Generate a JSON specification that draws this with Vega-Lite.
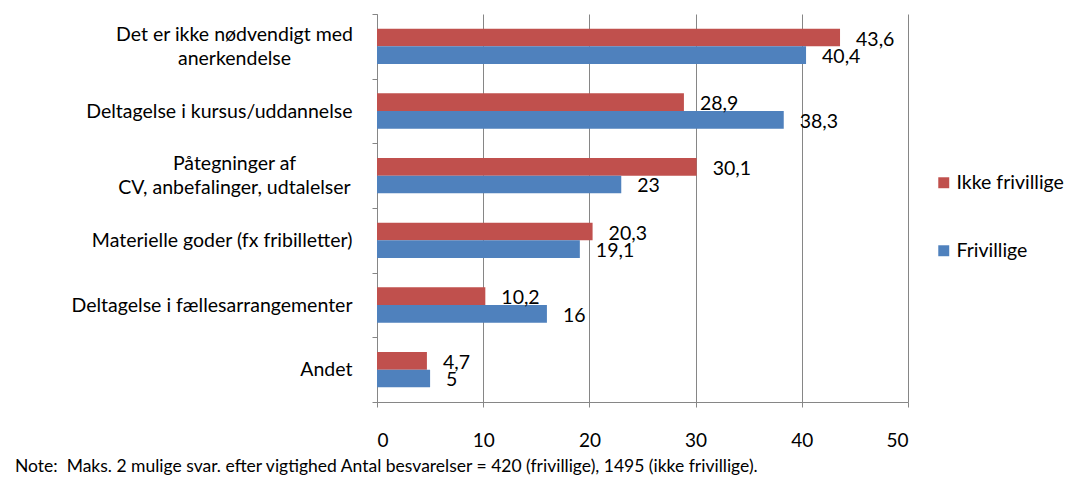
{
  "$schema": "https://vega.github.io/schema/vega-lite/v6.json",
  "width": 531,
  "height": 388,
  "autosize": {"type": "none"},
  "padding": {"left": 377, "top": 14, "right": 177, "bottom": 85},
  "config": {
    "view": {"stroke": null},
    "font": "Lato",
    "locale": {"number": {"decimal": ",", "thousands": ".", "grouping": [3], "currency": ["", " kr"]}}
  },
  "title": {
    "text": "Note:\u00a0 Maks. 2 mulige svar. efter vigtighed Antal besvarelser = 420 (frivillige), 1495 (ikke frivillige).",
    "orient": "bottom",
    "anchor": "start",
    "frame": "group",
    "dx": -362,
    "offset": 8,
    "fontSize": 17.5,
    "fontWeight": "normal",
    "color": "#000000"
  },
  "data": {
    "values": [
      {"kategori": "Det er ikke nødvendigt med|anerkendelse", "gruppe": "Ikke frivillige", "verdi": 43.6},
      {"kategori": "Det er ikke nødvendigt med|anerkendelse", "gruppe": "Frivillige", "verdi": 40.4},
      {"kategori": "Deltagelse i kursus/uddannelse", "gruppe": "Ikke frivillige", "verdi": 28.9},
      {"kategori": "Deltagelse i kursus/uddannelse", "gruppe": "Frivillige", "verdi": 38.3},
      {"kategori": "Påtegninger af|CV, anbefalinger, udtalelser", "gruppe": "Ikke frivillige", "verdi": 30.1},
      {"kategori": "Påtegninger af|CV, anbefalinger, udtalelser", "gruppe": "Frivillige", "verdi": 23},
      {"kategori": "Materielle goder (fx fribilletter)", "gruppe": "Ikke frivillige", "verdi": 20.3},
      {"kategori": "Materielle goder (fx fribilletter)", "gruppe": "Frivillige", "verdi": 19.1},
      {"kategori": "Deltagelse i fællesarrangementer", "gruppe": "Ikke frivillige", "verdi": 10.2},
      {"kategori": "Deltagelse i fællesarrangementer", "gruppe": "Frivillige", "verdi": 16},
      {"kategori": "Andet", "gruppe": "Ikke frivillige", "verdi": 4.7},
      {"kategori": "Andet", "gruppe": "Frivillige", "verdi": 5}
    ]
  },
  "encoding": {
    "y": {
      "field": "kategori",
      "type": "nominal",
      "sort": null,
      "scale": {"paddingInner": 0, "paddingOuter": 0},
      "axis": {
        "title": null,
        "tickBand": "extent",
        "domainColor": "#868686",
        "tickColor": "#868686",
        "tickSize": 5,
        "labelFontSize": 19.5,
        "labelColor": "#000000",
        "labelLineHeight": 24,
        "labelLimit": 400,
        "labelExpr": "split(datum.label, '|')",
        "labelAlign": {"condition": {"test": "indexof(datum.label, '|') >= 0", "value": "center"}, "value": "right"},
        "labelPadding": {"condition": {"test": "indexof(datum.label, '|') >= 0", "value": 138}, "value": 20},
        "labelOffset": {"condition": {"test": "indexof(datum.label, '|') >= 0", "value": -12}, "value": 0}
      }
    },
    "yOffset": {
      "field": "gruppe",
      "type": "nominal",
      "sort": ["Ikke frivillige", "Frivillige"],
      "scale": {"paddingInner": 0, "paddingOuter": 0.833}
    },
    "x": {
      "field": "verdi",
      "type": "quantitative",
      "scale": {"domain": [0, 50], "nice": false},
      "axis": {
        "title": null,
        "values": [0, 10, 20, 30, 40, 50],
        "grid": true,
        "gridColor": "#868686",
        "domainColor": "#868686",
        "tickColor": "#868686",
        "tickSize": 5,
        "labelFontSize": 19,
        "labelColor": "#000000",
        "labelPadding": 24
      }
    }
  },
  "layer": [
    {
      "mark": {"type": "bar"},
      "encoding": {
        "color": {
          "field": "gruppe",
          "type": "nominal",
          "sort": ["Ikke frivillige", "Frivillige"],
          "scale": {"domain": ["Ikke frivillige", "Frivillige"], "range": ["#C0504D", "#4F81BD"]},
          "legend": {
            "title": null,
            "orient": "none",
            "legendX": 557,
            "legendY": 159,
            "symbolType": "square",
            "symbolSize": 120,
            "symbolStrokeWidth": 0,
            "labelFontSize": 19.5,
            "labelColor": "#000000",
            "labelOffset": 3,
            "rowPadding": 47
          }
        }
      }
    },
    {
      "mark": {"type": "text", "align": "left", "baseline": "middle", "dx": 16, "dy": 2, "fontSize": 19.5, "color": "#000000"},
      "encoding": {
        "text": {"field": "verdi", "type": "quantitative", "format": ".1~f"}
      }
    }
  ]
}
